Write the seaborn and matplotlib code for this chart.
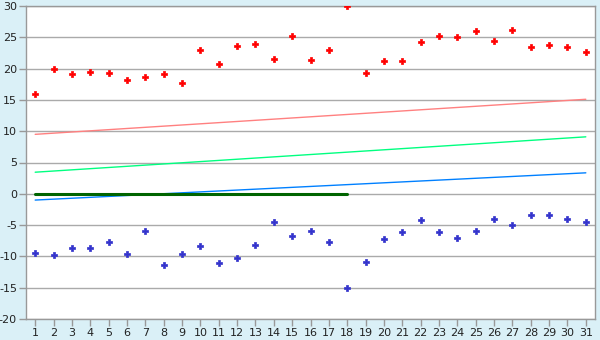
import matplotlib
matplotlib.use("Agg")
import matplotlib.pyplot as plt
import seaborn as sns
import pandas as pd

days = list(range(1, 32))
high = [16.0, 20.0, 19.1, 19.4, 19.25, 18.1, 18.7, 19.2, 17.65, 22.9,
        20.7, 23.55, 23.9, 21.5, 25.15, 21.3, 22.9, 30.0, 19.25, 21.2,
        21.2, 24.2, 25.15, 25.0, 25.95, 24.35, 26.1, 23.4, 23.7, 23.4, 22.6]
low = [-9.46, -9.78, -8.67, -8.67, -7.71, -9.62, -5.95, -11.37, -9.62, -8.35,
       -11.06, -10.26, -8.19, -4.52, -6.75, -5.95, -7.71, -15.05, -10.9, -7.22,
       -6.11, -4.2, -6.11, -7.07, -5.95, -4.04, -5.0, -3.4, -3.4, -4.04, -4.5]

trend_x = [1, 31]
trend_high = [9.5, 15.1]
trend_mid = [3.45, 9.1]
trend_low = [-1.0, 3.35]
zero_x = [1, 18]
zero_y = [0, 0]

yticks = list(range(-20, 31, 5))

sns.set_theme(style="white")
plt.rcParams['font.family'] = ['DejaVu Sans']
plt.rcParams['axes.unicode_minus'] = False

bg = '#DAF0F7'
fig = plt.figure(figsize=(6, 3.4), dpi=100, facecolor=bg)
ax = fig.add_axes([26/600, 21/340, 569/600, 313/340])
ax.set_facecolor('white')

for y in yticks:
    ax.axhline(y, color='#AAAAAA', lw=1.0, zorder=0)

df_t = pd.DataFrame({'x': trend_x, 'h': trend_high, 'm': trend_mid, 'l': trend_low})
sns.lineplot(data=df_t, x='x', y='h', color='#FF8080', lw=1.0, ax=ax, zorder=2)
sns.lineplot(data=df_t, x='x', y='m', color='#00FF80', lw=1.0, ax=ax, zorder=2)
sns.lineplot(data=df_t, x='x', y='l', color='#0080FF', lw=1.0, ax=ax, zorder=2)
df_z = pd.DataFrame({'x': zero_x, 'y': zero_y})
sns.lineplot(data=df_z, x='x', y='y', color='#006400', lw=2.2, ax=ax, zorder=3)

df = pd.DataFrame({'day': days, 'high': high, 'low': low})
sns.scatterplot(data=df, x='day', y='high', marker='P', color='#FF0000', s=20,
                edgecolor='#FF0000', linewidth=0.5, ax=ax, zorder=4)
sns.scatterplot(data=df, x='day', y='low', marker='P', color='#3333CC', s=20,
                edgecolor='#3333CC', linewidth=0.5, ax=ax, zorder=4)

ax.set_xlim(0.5, 31.5)
ax.set_ylim(-20, 30)
ax.set_xticks(days)
ax.set_xticklabels([str(d) for d in days])
ax.set_yticks(yticks)
ax.set_yticklabels([str(y) for y in yticks])
ax.set_xlabel('')
ax.set_ylabel('')
ax.tick_params(axis='both', labelsize=8, colors='#222222', length=5, width=1,
               direction='out', bottom=True, left=True, pad=1.5)
ax.tick_params(axis='both', color='#999999')
for side in ['left', 'bottom', 'right', 'top']:
    ax.spines[side].set_visible(True)
    ax.spines[side].set_color('#999999')
    ax.spines[side].set_linewidth(1.0)

fig.savefig('out.png', dpi=100, facecolor=bg)
